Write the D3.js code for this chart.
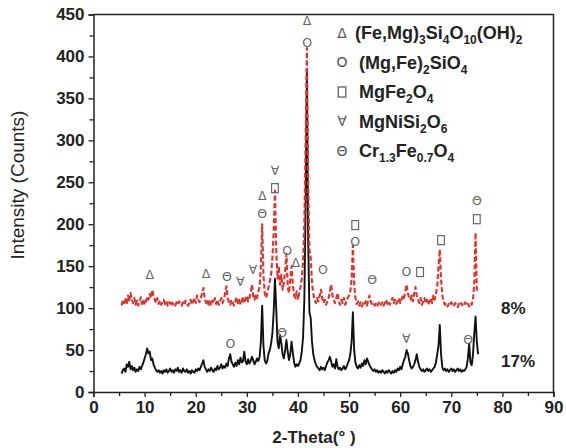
<!DOCTYPE html>
<html><head><meta charset="utf-8">
<script src="https://cdn.jsdelivr.net/npm/d3@7"></script>
<style>body{margin:0;background:#fff}</style>
</head><body><svg id="c" width="566" height="448"></svg>
<script>
// XRD scan of the 17% sample: [2-theta, counts]
const scan17 = [[5.5,22],[5.75,26],[6,28],[6.25,24],[6.5,33],[6.75,30],[7,36],[7.25,27],[7.5,31],[7.75,26],[8,29],[8.25,24],[8.5,27],[8.75,25],[9,30],[9.25,27],[9.5,31],
[9.75,35],[10,40],[10.25,45],[10.5,52],[10.75,46],[11,48],[11.25,38],[11.5,40],[11.75,33],[12,29],[12.25,26],[12.5,24],[12.75,26],
[13,23],[13.25,25],[13.5,22],[13.75,26],[14,24],[14.25,27],[14.5,23],[14.75,25],[15,28],[15.25,24],[15.5,26],[15.75,23],[16,27],[16.25,25],[16.5,29],[16.75,24],[17,26],[17.25,23],[17.5,28],[17.75,25],[18,24],[18.25,27],[18.5,23],[18.75,25],[19,22],[19.25,26],[19.5,24],[19.75,23],[20,27],
[20.25,25],[20.5,28],[20.75,26],[21,30],[21.25,34],[21.5,38],[21.75,30],[22,27],[22.25,24],[22.5,27],[22.75,25],[23,29],[23.25,26],[23.5,24],[23.75,28],[24,26],[24.25,31],[24.5,27],[24.75,29],[25,33],[25.25,28],[25.5,31],[25.75,29],[26,34],[26.25,31],[26.5,40],[26.75,45],[27,36],[27.25,33],[27.5,30],[27.75,35],[28,31],[28.25,38],[28.5,33],[28.75,41],[29,35],[29.25,37],[29.5,48],[29.75,36],[30,33],[30.25,39],[30.5,34],[30.75,37],[31,42],[31.25,38],[31.5,33],[31.75,36],[32,40],[32.25,37],[32.5,42],[32.75,60],[33,103],[33.25,55],[33.5,38],[33.75,34],[34,37],[34.25,46],[34.5,50],[34.75,58],[35,70],[35.25,95],[35.5,135],[35.75,100],[36,60],[36.25,52],[36.5,68],[36.75,58],[37,45],[37.25,40],[37.5,50],[37.75,62],[38,48],[38.25,38],[38.5,45],[38.75,60],[39,47],[39.25,35],[39.5,30],[39.75,33],[40,31],[40.25,34],[40.5,38],[40.75,48],[41,65],[41.25,110],[41.5,220],[41.75,385],[42,180],[42.25,95],[42.5,88],[42.75,60],[43,45],[43.25,38],[43.5,33],[43.75,30],[44,28],[44.25,26],[44.5,30],[44.75,27],[45,29],[45.25,26],[45.5,31],[45.75,35],[46,38],[46.25,42],[46.5,36],[46.75,30],[47,33],[47.25,28],[47.5,39],[47.75,30],[48,27],[48.25,29],[48.5,26],[48.75,28],[49,31],[49.25,27],[49.5,30],[49.75,34],[50,38],[50.25,45],[50.5,60],[50.75,95],[51,50],[51.25,35],[51.5,30],[51.75,28],[52,32],[52.25,29],[52.5,34],[52.75,31],[53,38],[53.25,33],[53.5,40],[53.75,36],[54,32],[54.25,29],[54.5,27],[54.75,25],[55,27],[55.25,24],[55.5,26],[55.75,23],[56,25],[56.25,23],[56.5,26],[56.75,24],[57,22],[57.25,25],[57.5,23],[57.75,26],[58,24],[58.25,22],[58.5,25],[58.75,23],[59,26],[59.25,24],[59.5,28],[59.75,26],[60,30],[60.25,27],[60.5,33],[60.75,38],[61,42],[61.25,50],[61.5,46],[61.75,38],[62,31],[62.25,28],[62.5,30],[62.75,33],[63,38],[63.25,45],[63.5,36],[63.75,30],[64,27],[64.25,25],[64.5,27],[64.75,24],[65,26],[65.25,28],[65.5,25],[65.75,27],[66,24],[66.25,26],[66.5,28],[66.75,30],[67,35],[67.25,45],[67.5,55],[67.75,80],[68,45],[68.25,29],[68.5,26],[68.75,28],[69,25],[69.25,27],[69.5,24],[69.75,26],[70,28],[70.25,25],[70.5,27],[70.75,24],[71,26],[71.25,28],[71.5,25],[71.75,27],[72,24],[72.25,26],[72.5,25],[72.75,27],[73,30],[73.25,40],[73.5,58],[73.75,35],[74,32],[74.25,45],[74.5,70],[74.75,90],[75,60],[75.25,45]];

// XRD scan of the 8% sample: [2-theta, counts]
const scan8 = [[5.5,103],[5.75,110],[6,106],[6.25,112],[6.5,104],[6.75,115],[7,108],[7.25,118],[7.5,110],[7.75,106],[8,112],[8.25,104],[8.5,109],[8.75,103],[9,108],[9.25,113],[9.5,105],[9.75,110],[10,104],[10.25,108],[10.5,114],[10.75,110],[11,117],[11.25,112],[11.5,122],[11.75,115],[12,110],[12.25,106],[12.5,112],[12.75,105],[13,109],[13.25,104],[13.5,108],[13.75,110],[14,105],[14.25,108],[14.5,103],[14.75,107],[15,105],[15.25,109],[15.5,104],[15.75,106],[16,103],[16.25,107],[16.5,104],[16.75,108],[17,105],[17.25,103],[17.5,107],[17.75,104],[18,109],[18.25,105],[18.5,103],[18.75,106],[19,110],[19.25,104],[19.5,108],[19.75,112],[20,106],[20.25,115],[20.5,110],[20.75,107],[21,112],[21.25,118],[21.5,124],[21.75,112],[22,106],[22.25,110],[22.5,104],[22.75,108],[23,103],[23.25,109],[23.5,106],[23.75,112],[24,105],[24.25,110],[24.5,104],[24.75,108],[25,112],[25.25,106],[25.5,110],[25.75,118],[26,126],[26.25,112],[26.5,107],[26.75,104],[27,110],[27.25,106],[27.5,103],[27.75,108],[28,113],[28.25,106],[28.5,110],[28.75,104],[29,108],[29.25,114],[29.5,106],[29.75,110],[30,115],[30.25,108],[30.5,112],[30.75,118],[31,128],[31.25,114],[31.5,110],[31.75,116],[32,112],[32.25,120],[32.5,125],[32.75,150],[33,200],[33.25,140],[33.5,118],[33.75,112],[34,118],[34.25,125],[34.5,132],[34.75,140],[35,160],[35.25,190],[35.5,240],[35.75,170],[36,135],[36.25,150],[36.5,128],[36.75,140],[37,122],[37.25,130],[37.5,145],[37.75,165],[38,125],[38.25,118],[38.5,135],[38.75,150],[39,128],[39.25,115],[39.5,112],[39.75,120],[40,110],[40.25,118],[40.5,125],[40.75,135],[41,155],[41.25,200],[41.5,300],[41.75,410],[42,250],[42.25,170],[42.5,160],[42.75,130],[43,118],[43.25,110],[43.5,106],[43.75,112],[44,108],[44.25,115],[44.5,122],[44.75,112],[45,106],[45.25,110],[45.5,104],[45.75,108],[46,112],[46.25,120],[46.5,128],[46.75,115],[47,110],[47.25,106],[47.5,112],[47.75,118],[48,108],[48.25,104],[48.5,110],[48.75,106],[49,112],[49.25,104],[49.5,108],[49.75,112],[50,115],[50.25,120],[50.5,135],[50.75,175],[51,130],[51.25,112],[51.5,105],[51.75,108],[52,103],[52.25,107],[52.5,102],[52.75,106],[53,104],[53.25,108],[53.5,103],[53.75,110],[54,115],[54.25,108],[54.5,104],[54.75,106],[55,103],[55.25,105],[55.5,102],[55.75,106],[56,108],[56.25,104],[56.5,107],[56.75,103],[57,106],[57.25,110],[57.5,105],[57.75,108],[58,104],[58.25,109],[58.5,112],[58.75,106],[59,110],[59.25,105],[59.5,108],[59.75,112],[60,106],[60.25,110],[60.5,115],[60.75,112],[61,120],[61.25,128],[61.5,118],[61.75,112],[62,110],[62.25,115],[62.5,108],[62.75,118],[63,125],[63.25,115],[63.5,110],[63.75,106],[64,112],[64.25,104],[64.5,108],[64.75,112],[65,106],[65.25,110],[65.5,104],[65.75,108],[66,112],[66.25,106],[66.5,115],[66.75,110],[67,118],[67.25,125],[67.5,150],[67.75,170],[68,135],[68.25,115],[68.5,108],[68.75,104],[69,106],[69.25,102],[69.5,105],[69.75,103],[70,107],[70.25,104],[70.5,102],[70.75,106],[71,104],[71.25,101],[71.5,105],[71.75,103],[72,106],[72.25,102],[72.5,104],[72.75,107],[73,103],[73.25,105],[73.5,102],[73.75,106],[74,104],[74.25,110],[74.5,130],[74.75,190],[75,120]];

// Phase markers: [symbol, 2-theta, counts]
const marks8 = [["Δ",11.0,140],["Δ",22.0,141],["Θ",26.1,138],["∀",28.7,131],["∀",31.2,146],
  ["Θ",33.0,213],["Δ",33.0,234],["□",35.5,243],["∀",35.5,264],["O",37.9,169],["Δ",39.6,154],
  ["O",41.8,416],["Δ",41.8,443],["O",44.9,146],["O",51.2,179],["□",51.2,199],["Θ",54.5,134],
  ["O",61.2,143],["□",63.9,143],["□",68.0,181],["□",75.0,206],["Θ",75.0,228]];
const marks17 = [["O",26.8,58],["Θ",36.9,71],["∀",61.2,64],["Θ",73.3,63]];

const seriesLabels = [["8%",100],["17%",37]];

// Legend rows: symbol and formula parts ([text, isSubscript])
const legendRows = [
  ["Δ", [["(Fe,Mg)",0],["3",1],["Si",0],["4",1],["O",0],["10",1],["(OH)",0],["2",1]]],
  ["O", [["(Mg,Fe)",0],["2",1],["SiO",0],["4",1]]],
  ["□", [["MgFe",0],["2",1],["O",0],["4",1]]],
  ["∀", [["MgNiSi",0],["2",1],["O",0],["6",1]]],
  ["Θ", [["Cr",0],["1.3",1],["Fe",0],["0.7",1],["O",0],["4",1]]]
];

const xTickValues = d3.range(0, 91, 10);
const yTickValues = d3.range(0, 451, 50);

const svg = d3.select("#c");
const font = "Arial, 'Liberation Sans', sans-serif";
const L = 93.5, R = 553.5, T = 14.5, B = 392;
const x = d3.scaleLinear().domain([0, 90]).range([L, R]);
const y = d3.scaleLinear().domain([0, 450]).range([B, T]);

const line = d3.line().x(d => x(d[0])).y(d => y(d[1]));

// black trace underneath, dashed red trace on top
svg.append("path").datum(scan17).attr("d", line)
  .attr("fill", "none").attr("stroke", "#111").attr("stroke-width", 1.9).attr("stroke-linejoin", "round");
svg.append("path").datum(scan8).attr("d", line)
  .attr("fill", "none").attr("stroke", "#e5302a").attr("stroke-width", 2.1)
  .attr("stroke-dasharray", "5,2.5").attr("stroke-linejoin", "round");

// draws one phase symbol centred at (cx, cy)
function drawSymbol(g, sym, cx, cy, size, color) {
  if (sym === "□") {
    g.append("rect").attr("x", cx - size * 0.27).attr("y", cy - size * 0.36)
      .attr("width", size * 0.54).attr("height", size * 0.72)
      .attr("fill", "none").attr("stroke", color).attr("stroke-width", 1.2);
  } else {
    g.append("text").attr("x", cx).attr("y", cy).attr("dy", "0.35em").attr("text-anchor", "middle")
      .attr("font-family", "'DejaVu Sans', sans-serif").attr("font-size", size)
      .attr("fill", color).text(sym);
  }
}

// phase markers
const markG = svg.append("g");
marks8.concat(marks17).forEach(d => drawSymbol(markG, d[0], x(d[1]), y(d[2]), 12.5, "#666"));

// axes
svg.append("g").attr("transform", `translate(0,${B})`)
  .call(d3.axisBottom(x).tickValues(xTickValues).tickSize(5).tickPadding(4));
svg.append("g").attr("transform", `translate(0,${B})`)
  .call(d3.axisBottom(x).tickValues(d3.range(5, 90, 10)).tickSize(4).tickFormat(""))
  .call(g => g.select(".domain").remove());
svg.append("g").attr("transform", `translate(${L},0)`)
  .call(d3.axisLeft(y).tickValues(yTickValues).tickSize(5).tickPadding(4));
svg.append("g").attr("transform", `translate(${L},0)`)
  .call(d3.axisLeft(y).tickValues(d3.range(25, 450, 50)).tickSize(4).tickFormat(""))
  .call(g => g.select(".domain").remove());
svg.selectAll(".domain").attr("stroke", "#222").attr("stroke-width", 1.5);
svg.selectAll(".tick line").attr("stroke", "#222").attr("stroke-width", 1.3);
svg.selectAll(".tick text").attr("font-family", font).attr("font-size", 17)
  .attr("font-weight", "bold").attr("fill", "#222");

// frame top and right
svg.append("path").attr("d", `M${L},${T}H${R}V${B}`).attr("fill", "none")
  .attr("stroke", "#222").attr("stroke-width", 1.5);

// axis titles
svg.append("text").attr("x", 314).attr("y", 443).attr("text-anchor", "middle")
  .attr("font-family", font).attr("font-size", 17).attr("font-weight", "bold").attr("fill", "#222")
  .text("2-Theta(° )");
svg.append("text").attr("transform", "translate(24,185) rotate(-90)").attr("text-anchor", "middle")
  .attr("font-family", font).attr("font-size", 19).attr("fill", "#222")
  .text("Intensity (Counts)");

// sample labels
svg.append("g").selectAll("text").data(seriesLabels).join("text")
  .attr("x", 501).attr("y", d => y(d[1])).attr("dy", "0.35em")
  .attr("font-family", font).attr("font-size", 17).attr("font-weight", "bold").attr("fill", "#222")
  .text(d => d[0]);

// legend
const lg = svg.append("g");
legendRows.forEach((row, i) => {
  const by = 39 + i * 29.5;
  drawSymbol(lg, row[0], 342, by - 6, 14, "#555");
  const t = lg.append("text").attr("x", i === 0 ? 355 : 359).attr("y", by)
    .attr("font-family", font).attr("font-size", 18).attr("font-weight", "bold").attr("fill", "#222");
  let sub = 0;
  row[1].forEach(([s, isSub]) => {
    const dy = (isSub ? 5 : 0) - (sub ? 5 : 0);
    t.append("tspan").attr("dy", dy).attr("font-size", isSub ? 12 : 18).text(s);
    sub = isSub;
  });
});
</script>
</body></html>
